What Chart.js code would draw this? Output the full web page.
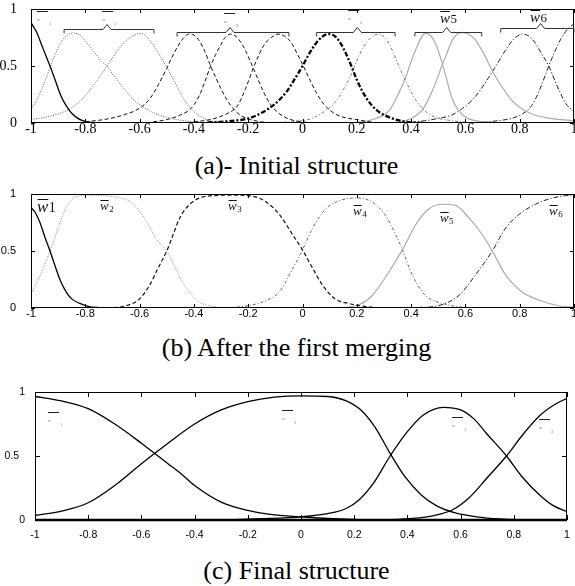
<!DOCTYPE html>
<html>
<head>
<meta charset="utf-8">
<script src="https://cdn.jsdelivr.net/npm/chart.js@4.4.0/dist/chart.umd.min.js"></script>
<style>
  body { margin: 0; background: #fff; width: 575px; height: 586px; position: relative; overflow: hidden; }
  canvas { position: absolute; left: 0; }
  .caption { position: absolute; left: 9px; width: 575px; text-align: center; color: #000;
             font: 26px "Liberation Serif", "Times New Roman", serif; line-height: 26px; white-space: nowrap; }
</style>
</head>
<body>
<canvas id="chartA" width="575" height="146" style="top:0px"></canvas>
<div class="caption" style="top:153px">(a)- Initial structure</div>
<canvas id="chartB" width="575" height="146" style="top:185px"></canvas>
<div class="caption" style="top:335px">(b) After the first merging</div>
<canvas id="chartC" width="575" height="165" style="top:380px"></canvas>
<div class="caption" style="top:558px">(c) Final structure</div>

<script>
// axis ticks
const xTickValues = [-1, -0.8, -0.6, -0.4, -0.2, 0, 0.2, 0.4, 0.6, 0.8, 1];
const xTickLabels = ['-1', '-0.8', '-0.6', '-0.4', '-0.2', '0', '0.2', '0.4', '0.6', '0.8', '1'];
const yTickValues = [0, 0.5, 1];
const yTickLabels = ['0', '0.5', '1'];
const yTickLabelsC = ['0', '0.5  ', '1'];

// (a) initial structure, membership curves
const a1 = [[-1,0.88],[-0.98,0.80],[-0.96,0.68],[-0.94,0.56],[-0.93,0.5],[-0.91,0.37],[-0.89,0.24],[-0.87,0.15],[-0.85,0.085],[-0.83,0.045],[-0.81,0.02],[-0.78,0.006],[-0.72,0],[-0.5,0]];
const a2 = [[-1,0.12],[-0.98,0.2],[-0.96,0.3],[-0.94,0.42],[-0.92,0.55],[-0.90,0.66],[-0.88,0.74],[-0.86,0.78],[-0.845,0.79],[-0.82,0.77],[-0.80,0.72],[-0.78,0.66],[-0.76,0.6],[-0.74,0.54],[-0.72,0.5],[-0.70,0.43],[-0.68,0.37],[-0.65,0.28],[-0.62,0.2],[-0.58,0.13],[-0.54,0.08],[-0.5,0.05],[-0.45,0.025],[-0.4,0.01],[-0.35,0.003],[-0.3,0]];
const a3 = [[-1,0.03],[-0.95,0.05],[-0.9,0.08],[-0.86,0.12],[-0.82,0.19],[-0.79,0.27],[-0.76,0.36],[-0.74,0.43],[-0.72,0.5],[-0.7,0.57],[-0.68,0.64],[-0.65,0.72],[-0.62,0.77],[-0.6,0.785],[-0.58,0.77],[-0.56,0.72],[-0.54,0.65],[-0.52,0.57],[-0.5,0.49],[-0.48,0.4],[-0.46,0.31],[-0.44,0.22],[-0.42,0.15],[-0.4,0.1],[-0.37,0.05],[-0.34,0.02],[-0.3,0.008],[-0.2,0]];
const a4 = [[-0.8,0.01],[-0.72,0.035],[-0.66,0.07],[-0.6,0.13],[-0.56,0.22],[-0.53,0.34],[-0.5,0.48],[-0.48,0.58],[-0.46,0.67],[-0.44,0.74],[-0.418,0.78],[-0.4,0.77],[-0.38,0.72],[-0.36,0.63],[-0.34,0.51],[-0.32,0.4],[-0.3,0.3],[-0.28,0.21],[-0.26,0.14],[-0.23,0.07],[-0.2,0.035],[-0.15,0.01],[-0.1,0]];
const a5 = [[-0.55,0.01],[-0.5,0.03],[-0.45,0.07],[-0.41,0.13],[-0.38,0.24],[-0.36,0.36],[-0.34,0.49],[-0.32,0.6],[-0.3,0.69],[-0.285,0.75],[-0.265,0.78],[-0.245,0.76],[-0.225,0.7],[-0.205,0.61],[-0.185,0.5],[-0.165,0.39],[-0.145,0.28],[-0.12,0.17],[-0.09,0.09],[-0.05,0.035],[0,0.01],[0.05,0]];
const a6 = [[-0.4,0.01],[-0.34,0.03],[-0.28,0.08],[-0.24,0.15],[-0.21,0.3],[-0.18,0.49],[-0.16,0.6],[-0.14,0.69],[-0.115,0.75],[-0.09,0.78],[-0.065,0.76],[-0.04,0.7],[-0.02,0.61],[0.003,0.5],[0.025,0.39],[0.05,0.27],[0.08,0.16],[0.12,0.08],[0.16,0.045],[0.2,0.03],[0.26,0.006],[0.3,0]];
const a7 = [[-0.35,0.005],[-0.28,0.015],[-0.2,0.04],[-0.15,0.09],[-0.1,0.17],[-0.06,0.27],[-0.03,0.38],[0,0.5],[0.03,0.63],[0.06,0.73],[0.096,0.78],[0.12,0.76],[0.14,0.7],[0.16,0.61],[0.18,0.5],[0.2,0.38],[0.22,0.28],[0.25,0.17],[0.28,0.1],[0.32,0.05],[0.36,0.02],[0.4,0.005],[0.45,0]];
const a8 = [[-0.1,0.005],[0,0.02],[0.04,0.045],[0.08,0.1],[0.12,0.18],[0.15,0.29],[0.18,0.43],[0.21,0.6],[0.24,0.72],[0.28,0.78],[0.31,0.73],[0.33,0.64],[0.355,0.5],[0.38,0.37],[0.405,0.25],[0.43,0.16],[0.46,0.09],[0.49,0.05],[0.55,0.02],[0.62,0.005],[0.7,0]];
const a9 = [[0.15,0],[0.22,0.01],[0.27,0.04],[0.32,0.11],[0.35,0.24],[0.38,0.4],[0.4,0.54],[0.42,0.66],[0.44,0.76],[0.453,0.786],[0.47,0.77],[0.49,0.7],[0.51,0.56],[0.527,0.42],[0.55,0.22],[0.575,0.11],[0.6,0.05],[0.65,0.015],[0.7,0.005],[0.75,0]];
const a10 = [[0.3,0],[0.36,0.01],[0.4,0.04],[0.44,0.11],[0.47,0.24],[0.49,0.35],[0.51,0.48],[0.53,0.6],[0.55,0.72],[0.57,0.78],[0.59,0.795],[0.61,0.78],[0.637,0.73],[0.655,0.66],[0.674,0.58],[0.69,0.5],[0.71,0.41],[0.74,0.3],[0.77,0.2],[0.81,0.12],[0.85,0.075],[0.9,0.045],[0.95,0.03],[1,0.02]];
const a11 = [[0.4,0.005],[0.45,0.02],[0.5,0.04],[0.55,0.07],[0.59,0.13],[0.625,0.2],[0.655,0.29],[0.686,0.4],[0.72,0.53],[0.748,0.64],[0.78,0.74],[0.81,0.78],[0.835,0.76],[0.858,0.7],[0.88,0.61],[0.907,0.5],[0.93,0.37],[0.95,0.26],[0.97,0.17],[1,0.1]];
const a12 = [[0.55,0],[0.65,0.005],[0.72,0.02],[0.77,0.04],[0.81,0.08],[0.84,0.14],[0.86,0.22],[0.88,0.33],[0.907,0.5],[0.93,0.63],[0.95,0.73],[0.975,0.82],[1,0.87]];

// (b) after the first merging
const b1 = [[-1,0.88],[-0.985,0.84],[-0.967,0.75],[-0.95,0.63],[-0.93,0.5],[-0.91,0.36],[-0.89,0.23],[-0.87,0.14],[-0.85,0.08],[-0.82,0.04],[-0.79,0.015],[-0.75,0.004],[-0.7,0]];
const b2 = [[-1,0.13],[-0.98,0.22],[-0.96,0.32],[-0.93,0.5],[-0.9,0.7],[-0.875,0.86],[-0.85,0.95],[-0.82,0.985],[-0.78,0.99],[-0.72,0.985],[-0.68,0.97],[-0.64,0.94],[-0.61,0.88],[-0.575,0.76],[-0.54,0.61],[-0.5,0.5],[-0.47,0.36],[-0.44,0.22],[-0.41,0.12],[-0.38,0.05],[-0.34,0.02],[-0.3,0.005],[-0.25,0]];
const b3 = [[-0.72,0],[-0.65,0.02],[-0.6,0.08],[-0.563,0.2],[-0.532,0.35],[-0.5,0.5],[-0.477,0.64],[-0.452,0.79],[-0.415,0.91],[-0.354,0.98],[-0.256,0.99],[-0.183,0.98],[-0.134,0.93],[-0.085,0.82],[-0.037,0.645],[0,0.51],[0.037,0.35],[0.074,0.2],[0.12,0.08],[0.17,0.04],[0.21,0.02],[0.28,0]];
const b4 = [[-0.3,0],[-0.2,0.02],[-0.13,0.07],[-0.086,0.14],[-0.037,0.34],[0,0.51],[0.037,0.7],[0.086,0.87],[0.135,0.94],[0.196,0.965],[0.257,0.93],[0.306,0.81],[0.343,0.645],[0.368,0.51],[0.404,0.29],[0.453,0.11],[0.515,0.04],[0.576,0.01],[0.65,0]];
const b5 = [[0.1,0],[0.196,0.02],[0.257,0.11],[0.319,0.32],[0.368,0.51],[0.417,0.73],[0.466,0.87],[0.515,0.91],[0.564,0.9],[0.613,0.79],[0.662,0.645],[0.699,0.5],[0.748,0.29],[0.809,0.14],[0.87,0.07],[0.944,0.02],[1,0.005]];
const b6 = [[0.35,0],[0.43,0.005],[0.5,0.02],[0.576,0.11],[0.637,0.29],[0.699,0.5],[0.748,0.7],[0.797,0.82],[0.858,0.91],[0.92,0.965],[0.968,0.985],[1,0.99]];

// (c) final structure
const c1 = [[-1,0.965],[-0.9,0.93],[-0.8,0.87],[-0.7,0.75],[-0.6,0.6],[-0.55,0.52],[-0.5,0.44],[-0.45,0.36],[-0.4,0.27],[-0.3,0.14],[-0.2,0.075],[-0.1,0.04],[0,0.025],[0.1,0.012],[0.2,0.004],[0.3,0]];
const c2 = [[-1,0.035],[-0.9,0.07],[-0.8,0.135],[-0.7,0.27],[-0.6,0.44],[-0.5,0.6],[-0.4,0.75],[-0.3,0.86],[-0.2,0.925],[-0.1,0.96],[0,0.97],[0.1,0.965],[0.17,0.93],[0.23,0.85],[0.28,0.72],[0.335,0.52],[0.39,0.34],[0.45,0.2],[0.51,0.11],[0.58,0.055],[0.66,0.025],[0.75,0.008],[0.85,0]];
const c3 = [[-0.3,0],[-0.15,0.01],[0,0.025],[0.1,0.05],[0.17,0.09],[0.22,0.16],[0.27,0.28],[0.335,0.5],[0.4,0.69],[0.46,0.82],[0.535,0.88],[0.6,0.86],[0.65,0.79],[0.7,0.67],[0.7725,0.5],[0.83,0.34],[0.9,0.19],[0.95,0.11],[1,0.065]];
const c4 = [[0.3,0],[0.42,0.012],[0.5,0.035],[0.57,0.08],[0.63,0.17],[0.7,0.33],[0.7725,0.5],[0.835,0.67],[0.9,0.82],[0.96,0.91],[1,0.95]];

// annotations (data coordinates)
const bracketsA = [[-0.878,-0.547,-0.72,0.822],[-0.462,-0.05,-0.267,0.80],[0.052,0.341,0.202,0.80],[0.414,0.66,0.531,0.80],[0.73,1.0,0.877,0.83]];
const tinyA = [[-0.978,0.985,'1'],[-0.738,0.985,'2'],[-0.289,0.965,'3'],[0.168,0.991,'4']];
const bigA = [[0.506,0.88,'5',15,13,0],[0.838,0.889,'6',15,13,0]];
const bigB = [[-0.978,0.842,'1',17,14,0],[-0.746,0.86,'2',13,9,2],[-0.274,0.86,'3',13,9,2],[0.186,0.816,'4',13,9,2],[0.506,0.754,'5',13,9,2],[0.908,0.816,'6',13,9,2]];
const tinyC = [[-0.951,0.844,'1'],[-0.071,0.859,'2'],[0.568,0.805,'1'],[0.895,0.789,'4']];

const frame = {
  id: 'frame',
  afterDatasetsDraw(chart, args, opts) {
    const {ctx, chartArea: a, scales: {x, y}} = chart;
    ctx.save();
    ctx.strokeStyle = '#000';
    ctx.lineWidth = 1;
    ctx.strokeRect(a.left + 0.5, a.top + 0.5, a.right - a.left - 1, a.bottom - a.top - 1);
    ctx.beginPath();
    x.ticks.forEach(t => {
      const px = Math.round(x.getPixelForValue(t.value)) + 0.5;
      ctx.moveTo(px, a.bottom); ctx.lineTo(px, a.bottom - opts.tick);
      ctx.moveTo(px, a.top); ctx.lineTo(px, a.top + opts.tick);
    });
    y.ticks.forEach(t => {
      const py = Math.round(y.getPixelForValue(t.value)) + 0.5;
      ctx.moveTo(a.left, py); ctx.lineTo(a.left + opts.tick, py);
      ctx.moveTo(a.right, py); ctx.lineTo(a.right - opts.tick, py);
    });
    ctx.stroke();
    if (opts.bottom > 1) {
      ctx.lineWidth = opts.bottom;
      ctx.beginPath();
      ctx.moveTo(a.left, a.bottom); ctx.lineTo(a.right, a.bottom);
      ctx.stroke();
    }
    ctx.restore();
  }
};

function drawW(ctx, x, y, size, sub, subSize, subDy) {
  ctx.font = 'italic ' + size + 'px "Liberation Serif"';
  ctx.fillText('w', x, y);
  const w = ctx.measureText('w').width;
  ctx.fillRect(x + 0.5, Math.round(y - size * 0.75), w - 0.5, 1);
  ctx.font = subSize + 'px "Liberation Serif"';
  ctx.fillText(sub, x + w + 0.5, y + subDy);
}

function drawTiny(ctx, x, y, sub) {
  ctx.fillStyle = '#222';
  ctx.fillRect(x, y, 11, 1);
  ctx.fillStyle = '#888';
  ctx.font = '4px "Liberation Sans"';
  ctx.fillText('w', x, y + 10);
  ctx.fillText(sub, x + 12, y + 14);
}

function notes(brackets, tiny, big) {
  return {
    id: 'notes',
    afterDatasetsDraw(chart) {
      const {ctx, scales: {x, y}} = chart;
      ctx.save();
      ctx.strokeStyle = '#333';
      ctx.lineWidth = 1;
      brackets.forEach(b => {
        const x1 = x.getPixelForValue(b[0]), x2 = x.getPixelForValue(b[1]);
        const xc = x.getPixelForValue(b[2]), py = Math.round(y.getPixelForValue(b[3])) + 0.5;
        ctx.beginPath();
        ctx.moveTo(x1, py + 4); ctx.lineTo(x1, py); ctx.lineTo(xc - 4, py);
        ctx.lineTo(xc, py - 5); ctx.lineTo(xc + 4, py); ctx.lineTo(x2, py); ctx.lineTo(x2, py + 4);
        ctx.stroke();
      });
      ctx.textBaseline = 'alphabetic';
      ctx.textAlign = 'left';
      tiny.forEach(t => drawTiny(ctx, x.getPixelForValue(t[0]), Math.round(y.getPixelForValue(t[1])), t[2]));
      ctx.fillStyle = '#111';
      big.forEach(t => drawW(ctx, x.getPixelForValue(t[0]), y.getPixelForValue(t[1]), t[3], t[2], t[4], t[5]));
      ctx.restore();
    }
  };
}

function series(points, color, width, dash) {
  return {
    data: points.map(p => ({x: p[0], y: p[1]})),
    borderColor: color, borderWidth: width, borderDash: dash,
    pointRadius: 0, fill: false, cubicInterpolationMode: 'monotone'
  };
}

function makeChart(id, datasets, g) {
  const canvas = document.getElementById(id);
  const W = canvas.width, H = canvas.height;
  const font = {family: g.font, size: g.size};
  return new Chart(canvas, {
    type: 'line',
    data: {datasets: datasets},
    options: {
      responsive: false, animation: false, devicePixelRatio: 1,
      layout: {padding: {top: g.top, right: W - g.right, left: 0, bottom: 0}},
      plugins: {legend: {display: false}, tooltip: {enabled: false}, frame: {tick: g.tick, bottom: g.bottomWidth}},
      scales: {
        x: {
          type: 'linear', min: -1, max: 1,
          grid: {display: false}, border: {display: false},
          afterBuildTicks: s => { s.ticks = xTickValues.map(v => ({value: v})); },
          afterFit: s => { s.height = H - g.bottom; s.paddingLeft = 0; s.paddingRight = 0; },
          ticks: {autoSkip: false, maxRotation: 0, padding: g.xPad, color: '#000', font: font,
                  callback: (v, i) => xTickLabels[i]}
        },
        y: {
          type: 'linear', min: 0, max: 1,
          grid: {display: false}, border: {display: false},
          afterBuildTicks: s => { s.ticks = yTickValues.map(v => ({value: v})); },
          afterFit: s => { s.width = g.left; s.paddingTop = 0; s.paddingBottom = 0; },
          ticks: {padding: g.yPad, color: '#000', font: font, callback: (v, i) => g.yLabels[i]}
        }
      }
    },
    plugins: [frame, g.notes]
  });
}

const dotted = [1, 1.5], dashed = [4, 2.5], dashDot = [5, 2, 1.2, 2], fineDashDot = [3, 2, 1, 2];

makeChart('chartA', [
  series(a1, '#000', 1.3, []),
  series(a2, '#555', 1, dotted),
  series(a3, '#555', 1, dotted),
  series(a4, '#111', 1, dashed),
  series(a5, '#111', 1, dashed),
  series(a6, '#111', 1, dashed),
  series(a7, '#000', 2.3, [5, 2, 2, 2]),
  series(a8, '#777', 1, fineDashDot),
  series(a9, '#aaa', 1.2, []),
  series(a10, '#aaa', 1.2, []),
  series(a11, '#222', 1, dashDot),
  series(a12, '#222', 1, dashDot)
], {top: 9, bottom: 123, left: 31, right: 574, font: '"Liberation Serif"', size: 14, xPad: -10, yPad: 6,
    tick: 4, bottomWidth: 1, yLabels: yTickLabels, notes: notes(bracketsA, tinyA, bigA)});

makeChart('chartB', [
  series(b1, '#000', 1.3, []),
  series(b2, '#888', 1, dotted),
  series(b3, '#111', 1.2, dashed),
  series(b4, '#666', 1, fineDashDot),
  series(b5, '#aaa', 1.2, []),
  series(b6, '#222', 1, dashDot)
], {top: 9, bottom: 123, left: 31, right: 574, font: '"Liberation Sans"', size: 11, xPad: -9, yPad: 7,
    tick: 4, bottomWidth: 1, yLabels: yTickLabels, notes: notes([], [], bigB)});

makeChart('chartC', [
  series(c1, '#000', 1.3, []),
  series(c2, '#000', 1.3, []),
  series(c3, '#000', 1.3, []),
  series(c4, '#000', 1.3, [])
], {top: 12, bottom: 140, left: 35, right: 567, font: '"Liberation Sans"', size: 10.5, xPad: 1, yPad: 2,
    tick: 5, bottomWidth: 2.5, yLabels: yTickLabelsC, notes: notes([], tinyC, [])});
</script>
</body>
</html>
